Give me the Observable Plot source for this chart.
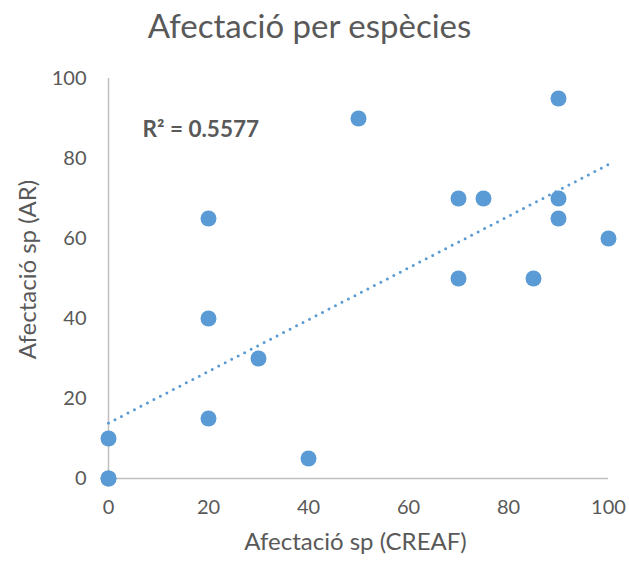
<!DOCTYPE html>
<html>
<head>
<meta charset="utf-8">
<script src="https://cdn.jsdelivr.net/npm/d3@7"></script>
<script src="https://cdn.jsdelivr.net/npm/@observablehq/plot@0.6"></script>
<style>
  body { margin: 0; background: #fff; font-family: Lato, "Open Sans", sans-serif; }
  #chart { width: 629px; }
  h1 { margin: 0; padding-right: 10px; height: 60px; line-height: 50px; text-align: center; font-weight: 400; font-size: 33px; color: #595959; }
</style>
</head>
<body>
<div id="chart">
  <h1>Afectació per espècies</h1>
</div>
<script>
// Damage per species: CREAF assessment vs AR assessment
const creaf = [0, 0, 0, 20, 20, 20, 30, 40, 50, 70, 70, 75, 85, 90, 90, 90, 100];
const ar    = [0, 0, 10, 65, 40, 15, 30, 5, 90, 70, 50, 70, 50, 95, 70, 65, 60];
const tickValues = [0, 20, 40, 60, 80, 100];
const xTitle = "Afectació sp (CREAF)";
const yTitle = "Afectació sp (AR)";
const r2Label = "R² = 0.5577";

const data = creaf.map((x, i) => ({x, y: ar[i]}));
const blue = "#5b9bd5";
const grey = "#595959";

const plot = Plot.plot({
  width: 629,
  height: 508,
  marginLeft: 108,
  marginRight: 21,
  marginTop: 18,
  marginBottom: 90,
  style: { fontFamily: "Lato, 'Open Sans', sans-serif", color: grey, background: "#fff" },
  x: { domain: [0, 100] },
  y: { domain: [0, 100] },
  marks: [
    Plot.ruleX([0], { stroke: "#bfbfbf", strokeWidth: 1.5 }),
    Plot.ruleY([0], { stroke: "#bfbfbf", strokeWidth: 1.5 }),
    Plot.axisX({ ticks: tickValues, tickSize: 0, tickPadding: 21, fontSize: 20, label: null, fill: grey }),
    Plot.axisY({ ticks: tickValues, tickSize: 0, tickPadding: 22, fontSize: 20, label: null, fill: grey }),
    // least-squares trend line, dotted
    Plot.linearRegressionY(data, {
      x: "x", y: "y", ci: 0,
      stroke: blue, strokeWidth: 3, strokeDasharray: "0,7.3", strokeLinecap: "round"
    }),
    Plot.dot(data, { x: "x", y: "y", r: 8, fill: blue, stroke: "none" }),
    Plot.text([r2Label], { x: 6.8, y: 87.25, textAnchor: "start", fontSize: 22.5, fontWeight: "bold", fill: grey }),
    Plot.text([xTitle], { frameAnchor: "bottom", dx: -3, dy: 71, fontSize: 24, fill: grey }),
    Plot.text([yTitle], { frameAnchor: "left", textAnchor: "middle", dx: -80, dy: -9, rotate: -90, fontSize: 24, fill: grey })
  ]
});
document.getElementById("chart").appendChild(plot);
</script>
</body>
</html>
